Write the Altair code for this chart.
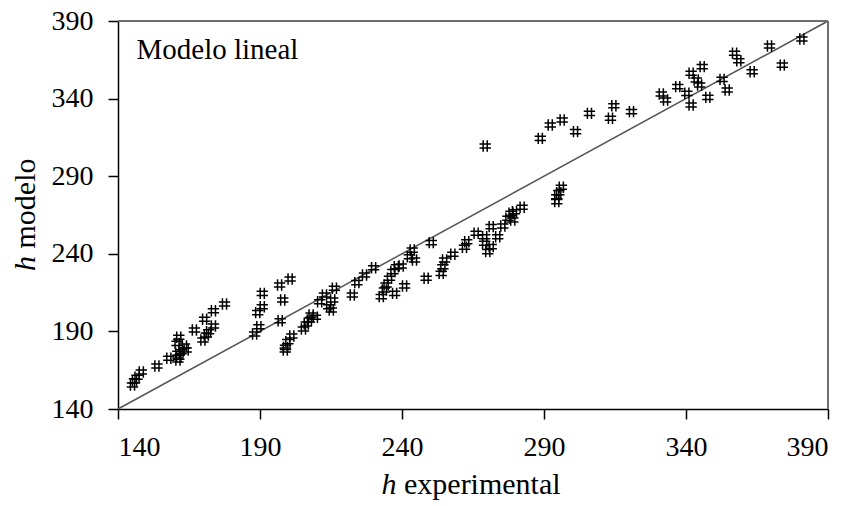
import altair as alt
import pandas as pd

# h experimental (x) and h modelo (y)
h_exp = [
    145.1, 145.8, 146.7, 148.2,
    153.7, 157.9, 161.1, 161.1, 161.4, 160.8, 163.4, 164.0, 162.2, 161.4,
    166.9, 169.9, 171.1, 170.5, 173.6, 173.6, 171.9, 177.5,
    188.1, 189.6, 189.2, 190.8, 190.8, 196.9, 200.6, 198.0, 197.1,
    201.2, 199.8, 199.0, 198.9,
    205.3, 206.3, 207.4, 208.0, 209.5, 211.0, 212.7, 214.2, 215.1, 216.2, 215.6,
    222.5, 224.1, 226.8, 230.0, 232.7, 233.8, 234.4, 235.6, 236.8, 238.0, 239.7,
    237.4, 240.9, 242.6, 243.6, 244.4, 250.3, 248.5, 253.8, 254.4, 255.0, 257.9,
    262.0, 262.8, 266.1,
    269.1, 269.1, 270.2, 271.4, 271.4, 273.7, 275.5, 277.3, 278.4, 279.6, 279.0, 282.3,
    269.3, 288.7, 292.2, 296.4, 301.1, 306.0, 313.4, 314.6, 320.8,
    296.1, 295.2, 294.5, 294.5,
    331.3, 332.8, 337.1, 340.3, 341.8, 341.8, 343.6, 344.8, 345.7, 347.7,
    352.7, 354.5, 357.1, 358.6, 363.3, 369.4, 373.9, 380.8,
]
h_mod = [
    155.5, 158.1, 160.5, 163.8,
    167.7, 172.7, 171.6, 175.9, 186.2, 182.3, 180.6, 178.0, 176.9, 173.3,
    190.9, 184.5, 187.7, 197.8, 203.3, 193.5, 189.8, 207.7,
    188.3, 193.0, 202.1, 205.9, 214.5, 219.9, 223.8, 210.2, 196.9,
    187.0, 183.4, 179.7, 178.0,
    191.5, 194.8, 197.3, 200.6, 199.1, 209.1, 213.5, 205.9, 203.8, 217.8, 210.2,
    213.5, 221.4, 226.3, 231.0, 212.4, 216.7, 219.9, 224.2, 228.5, 231.7, 232.1,
    214.5, 219.3, 238.1, 242.4, 236.0, 247.2, 224.2, 227.4, 231.7, 236.0, 239.7,
    244.2, 247.8, 253.2,
    251.0, 246.8, 241.4, 244.6, 257.5, 251.0, 257.9, 262.9, 266.1, 267.1, 261.8, 270.0,
    309.5, 314.4, 323.0, 326.2, 318.7, 330.5, 327.3, 335.4, 331.6,
    282.9, 279.4, 276.8, 273.6,
    343.0, 339.1, 347.7, 343.4, 335.9, 356.3, 352.0, 348.8, 360.6, 340.8,
    352.4, 345.5, 369.2, 364.4, 357.3, 373.9, 361.6, 378.4,
]
axis_ticks = [140, 190, 240, 290, 340, 390]
line_start = [140]
line_end = [390]

pts = pd.DataFrame({"x": h_exp, "y": h_mod})
diag = pd.DataFrame({"x": line_start, "y": line_start, "x2": line_end, "y2": line_end})

FONT = "Liberation Serif"
xs = alt.Scale(domain=[140, 390], nice=False, zero=False)
ys = alt.Scale(domain=[140, 390], nice=False, zero=False)

xaxis = alt.Axis(values=axis_ticks, title=None, labelFont=FONT, labelFontSize=28,
                 labelPadding=14)
yaxis = alt.Axis(values=axis_ticks, title=None, labelFont=FONT, labelFontSize=28,
                 labelPadding=15)

line = alt.Chart(diag).mark_rule(color="#555555", strokeWidth=1.5).encode(
    x=alt.X("x:Q", scale=xs, axis=xaxis),
    y=alt.Y("y:Q", scale=ys, axis=yaxis),
    x2="x2:Q",
    y2="y2:Q",
)

# top and right frame lines of the plot area
frame_top = alt.Chart(pd.DataFrame({"k": [0]})).mark_rule(color="#6e6e6e", strokeWidth=2).encode(
    x=alt.value(0), x2=alt.value(710), y=alt.value(0))
frame_right = alt.Chart(pd.DataFrame({"k": [0]})).mark_rule(color="#6e6e6e", strokeWidth=2).encode(
    x=alt.value(710), y=alt.value(0), y2=alt.value(388))

shape = "M-0.36,-1L-0.36,1M0.36,-1L0.36,1M-1,-0.36L1,-0.36M-1,0.36L1,0.36"
points = alt.Chart(pts).mark_point(shape=shape, size=130, filled=False,
                                   color="black", strokeWidth=1.5, opacity=1).encode(
    x=alt.X("x:Q", scale=xs),
    y=alt.Y("y:Q", scale=ys),
)

def label(txt, x, y, italic=False, angle=None, size=30):
    kw = dict(font=FONT, fontSize=size, align="left", baseline="alphabetic",
              color="black")
    if angle is not None:
        kw["angle"] = angle
    if italic:
        kw["fontStyle"] = "italic"
    return alt.Chart(pd.DataFrame({"t": [txt]})).mark_text(**kw).encode(
        x=alt.value(x), y=alt.value(y), text="t:N")

texts = [
    label("Modelo lineal", 18.5, 38, size=29),
    label("h", 263.5, 473, italic=True),
    label("experimental", 286, 473),
    label("h", -83.5, 250, italic=True, angle=270),
    label("modelo", -83.5, 227.5, angle=270),
]

chart = alt.layer(line, frame_top, frame_right, points, *texts).properties(
    width=710, height=388,
    autosize=alt.AutoSizeParams(type="none"),
    padding={"left": 118, "top": 21, "right": 28, "bottom": 97},
).configure_axis(
    grid=False, tickSize=10, tickColor="black", domainColor="black",
    domainWidth=1.5, tickWidth=1.5, labelColor="black", labelFont=FONT,
).configure_view(strokeWidth=0)

chart.save("out.html", embed_options={"renderer": "svg", "actions": False})
